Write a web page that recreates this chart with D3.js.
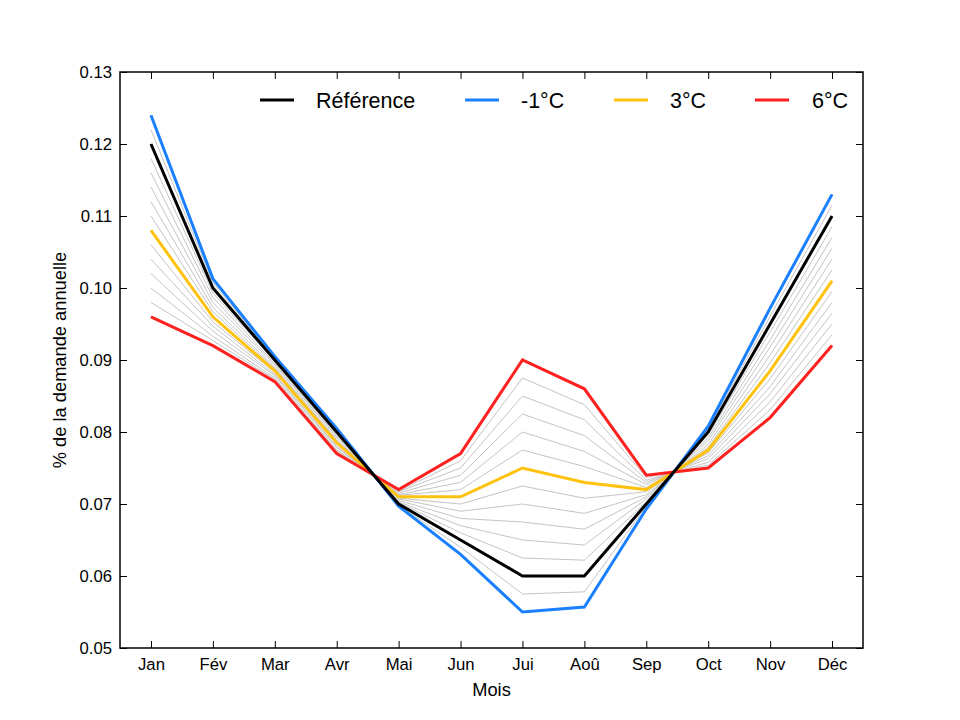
<!DOCTYPE html>
<html><head><meta charset="utf-8">
<script src="https://cdn.jsdelivr.net/npm/d3@7"></script>
<style>body{margin:0;background:#fff}svg{font-family:"Liberation Sans",Arial,sans-serif}</style>
</head><body><svg id="c" width="960" height="720"></svg>
<script>
const months = ["Jan","Fév","Mar","Avr","Mai","Jun","Jui","Aoû","Sep","Oct","Nov","Déc"];
const yTicks = [0.05,0.06,0.07,0.08,0.09,0.10,0.11,0.12,0.13];
const temperatures = [-1,-0.5,0,0.5,1,1.5,2,2.5,3,3.5,4,4.5,5,5.5,6];
const scenarios = [
  [.124,.1013,.0905,.0805,.0697,.063,.055,.0557,.0693,.0808,.0972,.113],
  [.122,.1007,.0903,.0803,.0698,.064,.0575,.0578,.0697,.0804,.0961,.1115],
  [.120,.100,.090,.080,.070,.065,.060,.060,.070,.080,.095,.110],
  [.118,.0993,.0898,.0798,.0702,.066,.0625,.0622,.0703,.0796,.0939,.1085],
  [.116,.0987,.0895,.0795,.0703,.067,.065,.0643,.0707,.0792,.0928,.107],
  [.114,.098,.0893,.0793,.0705,.068,.0675,.0665,.071,.0788,.0918,.1055],
  [.112,.0973,.089,.079,.0707,.069,.070,.0687,.0713,.0783,.0907,.104],
  [.110,.0967,.0888,.0788,.0708,.070,.0725,.0708,.0717,.0779,.0896,.1025],
  [.108,.096,.0885,.0785,.071,.071,.075,.073,.072,.0775,.0885,.101],
  [.106,.0953,.0883,.0783,.0712,.072,.0775,.0752,.0723,.0771,.0874,.0995],
  [.104,.0947,.088,.078,.0713,.073,.080,.0773,.0727,.0767,.0863,.098],
  [.102,.094,.0878,.0778,.0715,.074,.0825,.0795,.073,.0763,.0853,.0965],
  [.100,.0933,.0875,.0775,.0717,.075,.085,.0817,.0733,.0758,.0842,.095],
  [.098,.0927,.0873,.0773,.0718,.076,.0875,.0838,.0737,.0754,.0831,.0935],
  [.096,.092,.087,.077,.072,.077,.090,.086,.074,.075,.082,.092]
];
const reference = [.120,.100,.090,.080,.070,.065,.060,.060,.070,.080,.095,.110];
const minus1 = [.124,.1013,.0905,.0805,.0697,.063,.055,.0557,.0693,.0808,.0972,.113];
const plus3 = [.108,.096,.0885,.0785,.071,.071,.075,.073,.072,.0775,.0885,.101];
const plus6 = [.096,.092,.087,.077,.072,.077,.090,.086,.074,.075,.082,.092];
const highlighted = [
  {name:"Référence", values:reference, color:"#000000"},
  {name:"-1°C", values:minus1, color:"#1a80ff"},
  {name:"3°C", values:plus3, color:"#ffc20e"},
  {name:"6°C", values:plus6, color:"#ff2020"}
];

const L=120, R=863, T=72, B=648;
const svg = d3.select("#c");
const x = d3.scaleLinear().domain([-0.5, 11.5]).range([L, R]);
const y = d3.scaleLinear().domain([0.05, 0.13]).range([B, T]);
const line = d3.line().x((d,i)=>x(i)).y(d=>y(d));

const g = svg.append("g");
g.selectAll("path.gray").data(scenarios).join("path")
  .attr("class","gray").attr("d", line).attr("fill","none")
  .attr("stroke","#c4c4c4").attr("stroke-width",1);

const drawOrder = [highlighted[1], highlighted[2], highlighted[3], highlighted[0]];
g.selectAll("path.hl").data(drawOrder).join("path")
  .attr("class","hl").attr("d", d=>line(d.values)).attr("fill","none")
  .attr("stroke", d=>d.color).attr("stroke-width",3).attr("stroke-linejoin","miter");

const tl = 7;
const axB = d3.axisBottom(x).tickValues(d3.range(12)).tickFormat(i=>months[i]).tickSizeInner(-tl).tickSizeOuter(0).tickPadding(10);
const axT = d3.axisTop(x).tickValues(d3.range(12)).tickFormat("").tickSizeInner(-tl).tickSizeOuter(0);
const axL = d3.axisLeft(y).tickValues(yTicks).tickFormat(d3.format(".2f")).tickSizeInner(-tl).tickSizeOuter(0).tickPadding(8);
const axR = d3.axisRight(y).tickValues(yTicks).tickFormat("").tickSizeInner(-tl).tickSizeOuter(0);
function style(sel){
  sel.selectAll("path.domain").remove();
  sel.selectAll("line").attr("stroke","#000").attr("stroke-width",1);
  sel.selectAll("text").attr("font-size","16.7px").attr("fill","#000").attr("font-family","Liberation Sans, Arial, sans-serif");
}
svg.append("g").attr("transform",`translate(0,${B})`).call(axB).call(style);
svg.append("g").attr("transform",`translate(0,${T})`).call(axT).call(style);
svg.append("g").attr("transform",`translate(${L},0)`).call(axL).call(style);
svg.append("g").attr("transform",`translate(${R},0)`).call(axR).call(style);

svg.append("rect").attr("x",L).attr("y",T).attr("width",R-L).attr("height",B-T)
  .attr("fill","none").attr("stroke","#000").attr("stroke-width",1.5);

svg.append("text").attr("x",(L+R)/2).attr("y",696).attr("text-anchor","middle")
  .attr("font-size","18.3px").text("Mois");
svg.append("text").attr("transform",`translate(66,${(T+B)/2}) rotate(-90)`).attr("text-anchor","middle")
  .attr("font-size","18.3px").text("% de la demande annuelle");

const legLine = [260, 465, 614, 755];
const legText = [316, 521, 670, 812];
const leg = svg.append("g").selectAll("g").data(highlighted).join("g");
leg.append("line").attr("x1",(d,i)=>legLine[i]).attr("x2",(d,i)=>legLine[i]+34).attr("y1",100).attr("y2",100)
  .attr("stroke",d=>d.color).attr("stroke-width",3);
leg.append("text").attr("x",(d,i)=>legText[i]).attr("y",108).attr("font-size","21.5px").text(d=>d.name);
</script></body></html>
